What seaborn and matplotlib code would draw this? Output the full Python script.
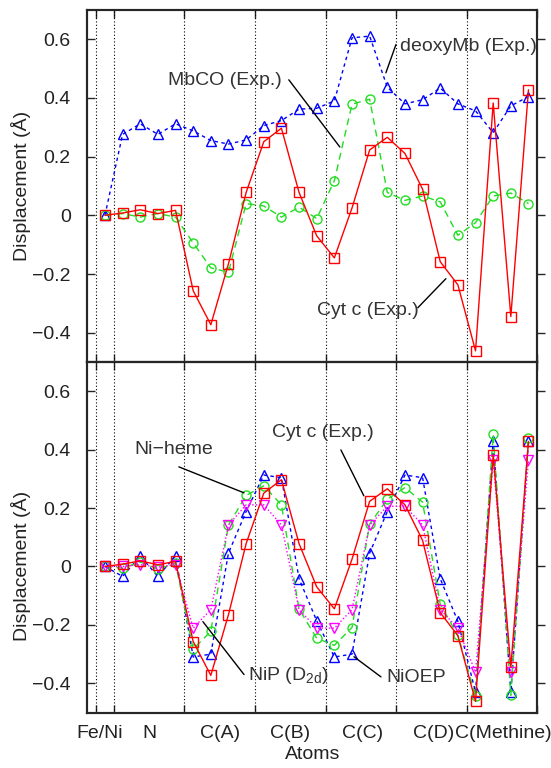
import matplotlib
matplotlib.use("Agg")
import matplotlib.pyplot as plt
import seaborn as sns
import numpy as np

# ---------------- data ----------------
atom_index = list(range(25))
group_labels = ["Fe/Ni", "N", "C(A)", "C(B)", "C(C)", "C(D)", "C(Methine)"]
group_label_pos = [-0.3, 2.5, 6.5, 10.5, 14.6, 18.6, 22.6]
group_bounds = [-0.5, 0.5, 4.5, 8.5, 12.5, 16.5, 20.5, 24.5]
ytick_vals = [-0.4, -0.2, 0.0, 0.2, 0.4, 0.6]
ytick_labels = ["\u22120.4", "\u22120.2", "0", "0.2", "0.4", "0.6"]

cytc_exp = [0.000, 0.008, 0.019, 0.006, 0.017, -0.257, -0.373, -0.165, 0.078, 0.251,
            0.297, 0.078, -0.070, -0.145, 0.025, 0.223, 0.266, 0.211, 0.089, -0.158,
            -0.237, -0.462, 0.383, -0.345, 0.428]
mbco_exp = [0.000, 0.006, -0.006, 0.006, -0.006, -0.094, -0.179, -0.194, 0.040, 0.032,
            -0.006, 0.028, -0.011, 0.118, 0.379, 0.396, 0.078, 0.051, 0.066, 0.046,
            -0.068, -0.025, 0.066, 0.076, 0.040]
deoxymb_exp = [0.000, 0.276, 0.312, 0.276, 0.312, 0.288, 0.255, 0.243, 0.257, 0.306,
               0.323, 0.362, 0.365, 0.390, 0.605, 0.611, 0.437, 0.380, 0.394, 0.434,
               0.380, 0.356, 0.282, 0.373, 0.405]
ni_heme = [0.000, -0.006, 0.015, -0.009, 0.011, -0.283, -0.222, 0.142, 0.243, 0.276,
           0.211, -0.146, -0.246, -0.270, -0.209, 0.145, 0.230, 0.270, 0.220, -0.129,
           -0.236, -0.444, 0.452, -0.441, 0.441]
nioep = [0.000, -0.034, 0.036, -0.034, 0.036, -0.310, -0.300, 0.046, 0.188, 0.313,
         0.304, -0.042, -0.186, -0.310, -0.300, 0.046, 0.188, 0.313, 0.304, -0.042,
         -0.188, -0.431, 0.430, -0.431, 0.430]
nip_d2d = [0.000, 0.000, 0.006, -0.002, 0.006, -0.211, -0.148, 0.142, 0.211, 0.211,
           0.142, -0.148, -0.211, -0.211, -0.148, 0.142, 0.206, 0.206, 0.142, -0.148,
           -0.211, -0.362, 0.365, -0.362, 0.365]

# ---------------- style ----------------
sns.set_style("ticks")
plt.rcParams["font.family"] = ["Liberation Sans", "DejaVu Sans"]
plt.rcParams["mathtext.default"] = "regular"
plt.rcParams["axes.unicode_minus"] = True

RED = "#ff0000"
GREEN = "#22dd22"
BLUE = "#0000ff"
MAGENTA = "#ff00ff"
TXT = "#222222"
ANN = "#333333"

fig = plt.figure(figsize=(5.51, 7.68), dpi=100)
L, R = 87.3 / 551, 537.3 / 551
ax_top = fig.add_axes([L, 1 - 362 / 768, R - L, (362 - 10) / 768])
ax_bot = fig.add_axes([L, 1 - 712.5 / 768, R - L, (712.5 - 362) / 768])


def draw(ax, y, color, marker, ls, ms, z):
    sns.lineplot(x=atom_index, y=y, ax=ax, color=color, linestyle=ls, linewidth=1.0,
                 marker=marker, markersize=ms, markerfacecolor="none",
                 markeredgecolor=color, markeredgewidth=1.0, zorder=z)


# top panel
draw(ax_top, deoxymb_exp, BLUE, "^", (0, (2.5, 2.5)), 7.5, 3)
draw(ax_top, mbco_exp, GREEN, "o", (0, (5, 3.5)), 6.5, 4)
draw(ax_top, cytc_exp, RED, "s", "-", 6.5, 5)

# bottom panel
draw(ax_bot, nioep, BLUE, "^", (0, (2.5, 2.5)), 7.5, 3)
draw(ax_bot, ni_heme, GREEN, "o", (0, (5, 3.5)), 6.5, 4)
draw(ax_bot, nip_d2d, MAGENTA, "v", (0, (1, 1.6)), 7.5, 5)
draw(ax_bot, cytc_exp, RED, "s", "-", 6.5, 6)

for ax in (ax_top, ax_bot):
    ax.set_xlim(-1, 24.5)
    ax.set_ylim(-0.5, 0.7)
    for b in group_bounds:
        ax.axvline(b, color="black", linestyle=(0, (1, 2)), linewidth=0.8, zorder=1)
    ax.set_xticks(group_bounds)
    ax.set_xticklabels([])
    ax.tick_params(axis="x", which="major", direction="in", length=6, width=1.0,
                   top=True, bottom=True)
    ax.set_xticks(group_label_pos, minor=True)
    ax.tick_params(axis="x", which="minor", length=0, pad=9, labelsize=14, labelcolor=TXT)
    ax.set_yticks(ytick_vals)
    ax.set_yticklabels(ytick_labels)
    ax.tick_params(axis="y", which="major", direction="in", length=6, width=1.0,
                   left=True, right=False, labelsize=14, labelcolor=TXT, pad=12)
    axr = ax.twinx()
    axr.set_ylim(-0.5, 0.7)
    axr.set_yticks(ytick_vals)
    axr.set_yticklabels([])
    axr.tick_params(axis="y", direction="out", length=6, width=1.0)
    for a in (ax, axr):
        for s in a.spines.values():
            s.set_linewidth(1.5)
            s.set_visible(True)
    ax.set_ylabel("Displacement (\u00c5)", fontsize=14, color=TXT)
    ax.set_xlabel("")

ax_top.set_xticklabels([], minor=True)
ax_bot.set_xticklabels(group_labels, minor=True)
ax_bot.set_xlabel("Atoms", fontsize=14, color=TXT, labelpad=3)
ax_top.yaxis.set_label_coords(-0.125, 0.5)
ax_bot.yaxis.set_label_coords(-0.125, 0.418)


def note(ax, text, tx, ty, ha, p0, p1):
    ax.text(tx, ty, text, fontsize=14, color=ANN, ha=ha, va="center", zorder=8)
    ax.annotate("", xy=p1, xytext=p0,
                arrowprops=dict(arrowstyle="-", color="black", lw=1.0,
                                shrinkA=0, shrinkB=0), zorder=8)


note(ax_top, "MbCO (Exp.)", 6.80, 0.459, "center", (10.42, 0.462), (13.31, 0.233))
note(ax_top, "deoxyMb (Exp.)", 16.71, 0.575, "left", (16.49, 0.582), (15.92, 0.486))
note(ax_top, "Cyt c (Exp.)", 12.01, -0.325, "left", (17.73, -0.315), (19.32, -0.216))

note(ax_bot, "Cyt c (Exp.)", 9.46, 0.457, "left", (13.37, 0.399), (14.67, 0.242))
note(ax_bot, "Ni\u2212heme", 1.64, 0.399, "left", (4.19, 0.341), (7.88, 0.252))
note(ax_bot, "NiP (D$_{2d}$)", 8.10, -0.374, "left", (5.55, -0.189), (7.88, -0.370))
note(ax_bot, "NiOEP", 15.92, -0.380, "left", (14.11, -0.309), (15.64, -0.378))

fig.savefig("out.png", dpi=100)
